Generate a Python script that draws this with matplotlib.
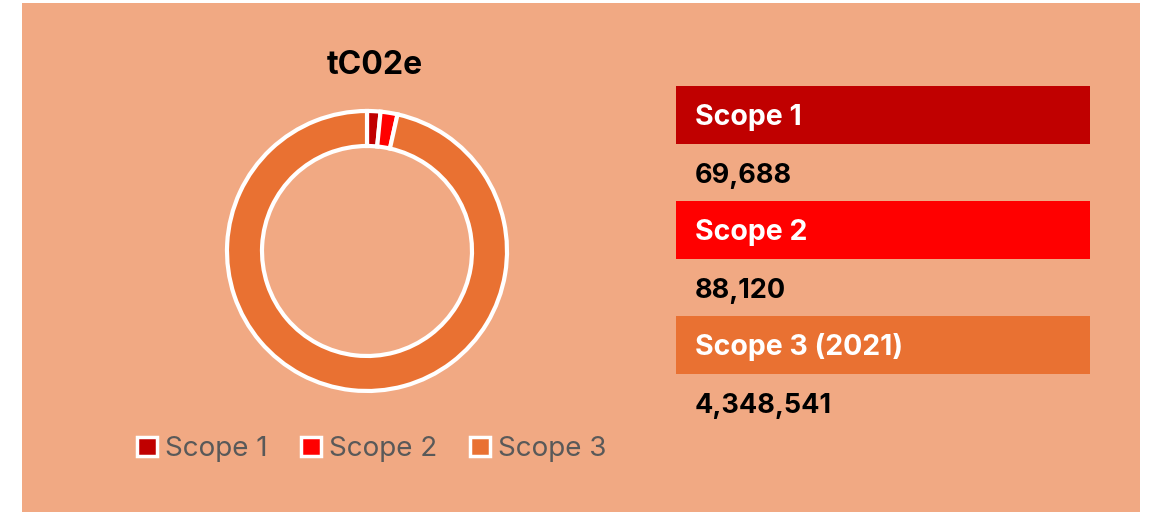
import matplotlib.pyplot as plt
from matplotlib.patches import Patch, Rectangle

# data
scopes = ['Scope 1', 'Scope 2', 'Scope 3']
emissions = [69688, 88120, 4348541]
panel_labels = ['Scope 1', 'Scope 2', 'Scope 3 (2021)']
colors = ['#C00000', '#FF0000', '#E97132']
bg = '#F1A983'

plt.rcParams['font.family'] = ['Inter', 'DejaVu Sans']

W, H = 1150, 512
fig = plt.figure(figsize=(W / 100, H / 100), dpi=100)
fig.patches.append(Rectangle((22 / W, 0), (1140 - 22) / W, (H - 3) / H,
                             transform=fig.transFigure, facecolor=bg,
                             edgecolor='none', zorder=-5))

# donut
ax = fig.add_axes([217 / W, 111 / H, 300 / W, 300 / H])
ax.pie(emissions, colors=colors, startangle=90, counterclock=False,
       radius=1.0,
       wedgeprops=dict(width=0.25, edgecolor='white', linewidth=3))
ax.set_xlim(-150 / 140, 150 / 140)
ax.set_ylim(-150 / 140, 150 / 140)
ax.set_aspect('equal')
ax.axis('off')
fig.text(375 / W, 1 - 65 / H, 'tC02e', ha='center', va='center',
         fontsize=23, fontweight='bold', color='black')

handles = [Patch(facecolor=c, edgecolor='white', linewidth=2.5) for c in colors]
fig.legend(handles, scopes, loc='center', bbox_to_anchor=(372 / W, 1 - 449 / H),
           ncol=3, frameon=False, fontsize=20, labelcolor='#595959',
           handlelength=0.7, handleheight=0.7, handletextpad=0.3,
           columnspacing=1.2)

# right panel
ax2 = fig.add_axes([676 / W, 1 - 460 / H, 414 / W, 402.5 / H])
rows = list(range(len(panel_labels)))
ax2.barh(rows, [1] * len(rows), left=0, height=58 / 115, color=colors)
for i, (lab, val) in enumerate(zip(panel_labels, emissions)):
    ax2.text(0.046, i + 0.02, lab, ha='left', va='center', color='white',
             fontsize=20.5, fontweight='bold')
    ax2.text(0.046, i + 0.53, f'{val:,}', ha='left', va='center',
             color='black', fontsize=19.5, fontweight='bold')
ax2.set_xlim(0, 1)
ax2.set_ylim(3.0, -0.5)
ax2.axis('off')

fig.savefig('out.png', dpi=100, facecolor='white')
